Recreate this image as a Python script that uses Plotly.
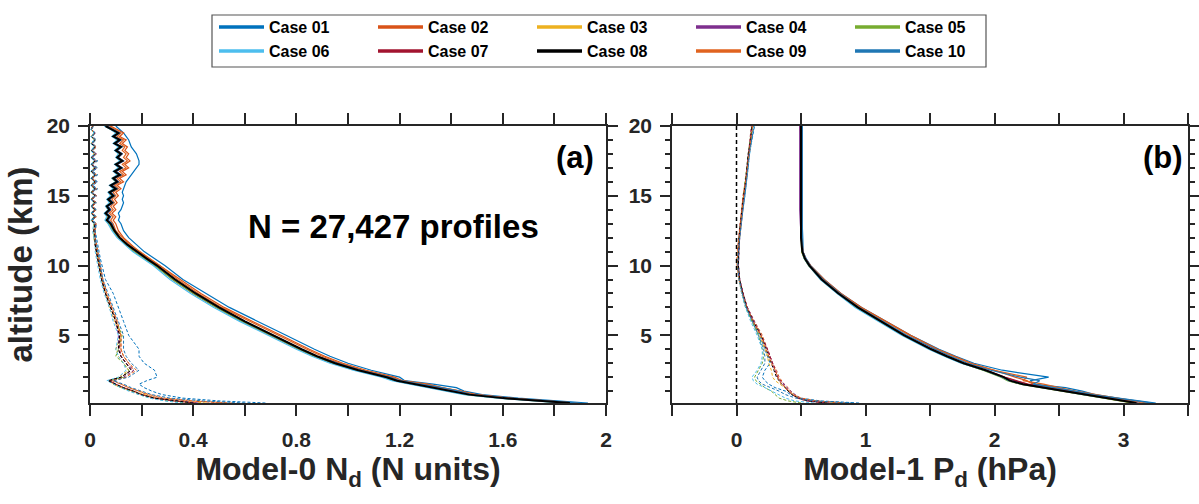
import plotly.graph_objects as go

# ---------------- data ----------------
CASES = ["Case 01", "Case 02", "Case 03", "Case 04", "Case 05",
         "Case 06", "Case 07", "Case 08", "Case 09", "Case 10"]
COLORS = ["#0072BD", "#D95319", "#EDB120", "#7E2F8E", "#77AC30",
          "#4DBEEE", "#A2142F", "#000000", "#E0631F", "#1F77B4"]

# altitude grid, panel (a)
ALT_A = [0.15, 0.3, 0.5, 0.75, 1.0, 1.25, 1.5, 1.75, 2.0, 2.5, 3.0, 3.5, 4.0, 5.0, 6.0, 7.0, 8.0, 9.0,
         10.0, 10.5, 11.0, 11.5, 12.0, 12.5,
         13.0, 13.25, 13.5, 13.75, 14.0, 14.25, 14.5, 14.75, 15.0, 15.25, 15.5, 15.75, 16.0, 16.25,
         16.5, 16.75, 17.0, 17.25, 17.5, 17.75, 18.0, 18.25, 18.5, 18.75, 19.0, 19.25, 19.5, 19.75, 20.0]

# Model-0 N_d, solid profiles
NA_01 = [1.93, 1.82, 1.66, 1.52, 1.45, 1.42, 1.33, 1.22, 1.20, 1.09, 1.00, 0.93, 0.87, 0.76, 0.65, 0.54, 0.45, 0.36,
         0.29, 0.25, 0.21, 0.18, 0.15, 0.13,
         0.12, 0.11, 0.115, 0.11, 0.12, 0.125, 0.13, 0.125, 0.13, 0.125, 0.13, 0.135, 0.14, 0.15,
         0.16, 0.17, 0.18, 0.19, 0.19, 0.185, 0.18, 0.17, 0.16, 0.155, 0.15, 0.14, 0.13, 0.115, 0.10]
NA_02 = [1.89, 1.78, 1.63, 1.50, 1.43, 1.37, 1.30, 1.21, 1.18, 1.07, 0.98, 0.91, 0.85, 0.74, 0.63, 0.52, 0.43, 0.35,
         0.27, 0.23, 0.19, 0.16, 0.13, 0.11,
         0.10, 0.09, 0.10, 0.085, 0.10, 0.09, 0.105, 0.095, 0.11, 0.10, 0.12, 0.105, 0.13, 0.115,
         0.14, 0.125, 0.15, 0.135, 0.155, 0.14, 0.15, 0.135, 0.145, 0.125, 0.14, 0.115, 0.13, 0.105, 0.08]
NA_03 = [1.84, 1.74, 1.59, 1.46, 1.40, 1.33, 1.27, 1.18, 1.15, 1.04, 0.95, 0.87, 0.81, 0.70, 0.59, 0.495, 0.405, 0.325,
         0.255, 0.215, 0.175, 0.14, 0.11, 0.09,
         0.075, 0.065, 0.07, 0.06, 0.07, 0.062, 0.08, 0.07, 0.085, 0.075, 0.095, 0.08, 0.10, 0.085,
         0.11, 0.095, 0.115, 0.10, 0.12, 0.105, 0.115, 0.10, 0.115, 0.095, 0.11, 0.09, 0.105, 0.085, 0.06]
NA_04 = [1.85, 1.74, 1.60, 1.47, 1.39, 1.33, 1.26, 1.18, 1.14, 1.03, 0.94, 0.87, 0.81, 0.70, 0.59, 0.49, 0.40, 0.32,
         0.255, 0.215, 0.175, 0.14, 0.11, 0.09,
         0.08, 0.068, 0.075, 0.065, 0.08, 0.07, 0.085, 0.075, 0.09, 0.08, 0.10, 0.085, 0.11, 0.095,
         0.115, 0.10, 0.12, 0.105, 0.125, 0.105, 0.12, 0.105, 0.12, 0.10, 0.115, 0.095, 0.11, 0.09, 0.065]
NA_05 = [1.84, 1.73, 1.59, 1.46, 1.39, 1.33, 1.26, 1.18, 1.14, 1.03, 0.94, 0.87, 0.81, 0.70, 0.59, 0.49, 0.40, 0.32,
         0.25, 0.21, 0.17, 0.14, 0.11, 0.09,
         0.07, 0.062, 0.075, 0.06, 0.075, 0.065, 0.08, 0.07, 0.09, 0.075, 0.095, 0.085, 0.105, 0.09,
         0.11, 0.095, 0.12, 0.10, 0.12, 0.105, 0.12, 0.10, 0.115, 0.095, 0.11, 0.09, 0.105, 0.085, 0.06]
NA_06 = [1.83, 1.72, 1.58, 1.45, 1.38, 1.32, 1.25, 1.17, 1.13, 1.02, 0.93, 0.86, 0.80, 0.69, 0.58, 0.48, 0.39, 0.31,
         0.245, 0.205, 0.165, 0.135, 0.105, 0.085,
         0.07, 0.058, 0.065, 0.055, 0.07, 0.06, 0.075, 0.065, 0.08, 0.07, 0.09, 0.075, 0.10, 0.085,
         0.105, 0.09, 0.11, 0.095, 0.115, 0.10, 0.11, 0.095, 0.11, 0.09, 0.105, 0.085, 0.10, 0.08, 0.055]
NA_07 = [1.86, 1.75, 1.61, 1.48, 1.41, 1.35, 1.28, 1.19, 1.16, 1.05, 0.96, 0.88, 0.82, 0.71, 0.60, 0.50, 0.41, 0.33,
         0.26, 0.22, 0.18, 0.145, 0.115, 0.095,
         0.085, 0.07, 0.08, 0.065, 0.08, 0.07, 0.09, 0.075, 0.095, 0.08, 0.105, 0.085, 0.11, 0.095,
         0.12, 0.10, 0.125, 0.105, 0.13, 0.11, 0.125, 0.105, 0.12, 0.10, 0.12, 0.095, 0.11, 0.09, 0.065]
NA_08 = [1.86, 1.75, 1.60, 1.47, 1.40, 1.34, 1.27, 1.19, 1.15, 1.04, 0.95, 0.88, 0.82, 0.71, 0.60, 0.50, 0.41, 0.33,
         0.26, 0.22, 0.18, 0.145, 0.115, 0.095,
         0.08, 0.065, 0.075, 0.06, 0.075, 0.065, 0.085, 0.07, 0.09, 0.075, 0.10, 0.08, 0.105, 0.09,
         0.115, 0.095, 0.12, 0.10, 0.125, 0.105, 0.12, 0.10, 0.12, 0.095, 0.115, 0.09, 0.11, 0.085, 0.06]
NA_09 = [1.88, 1.77, 1.62, 1.49, 1.44, 1.36, 1.31, 1.20, 1.17, 1.06, 0.97, 0.90, 0.84, 0.73, 0.62, 0.51, 0.42, 0.34,
         0.27, 0.23, 0.19, 0.155, 0.125, 0.10,
         0.09, 0.08, 0.09, 0.075, 0.09, 0.08, 0.095, 0.085, 0.10, 0.09, 0.11, 0.095, 0.12, 0.105,
         0.13, 0.115, 0.14, 0.125, 0.145, 0.13, 0.14, 0.125, 0.135, 0.115, 0.13, 0.105, 0.12, 0.10, 0.075]
NA_10 = [1.90, 1.77, 1.61, 1.48, 1.43, 1.36, 1.28, 1.20, 1.16, 1.05, 0.96, 0.88, 0.82, 0.71, 0.60, 0.50, 0.41, 0.33,
         0.26, 0.22, 0.18, 0.145, 0.115, 0.095,
         0.085, 0.07, 0.08, 0.065, 0.08, 0.07, 0.09, 0.075, 0.095, 0.08, 0.105, 0.085, 0.11, 0.095,
         0.12, 0.10, 0.125, 0.105, 0.13, 0.11, 0.125, 0.105, 0.125, 0.10, 0.12, 0.095, 0.115, 0.09, 0.065]

# Model-0 N_d, dashed profiles
DA_01 = [0.68, 0.50, 0.36, 0.28, 0.24, 0.21, 0.19, 0.22, 0.26, 0.25, 0.21, 0.19, 0.19, 0.15, 0.13, 0.11, 0.09, 0.06,
         0.045, 0.04, 0.035, 0.03, 0.025, 0.02,
         0.025, 0.01, 0.025, 0.01, 0.025, 0.01, 0.025, 0.01, 0.025, 0.01, 0.03, 0.01, 0.03, 0.01,
         0.03, 0.01, 0.03, 0.01, 0.03, 0.01, 0.025, 0.01, 0.025, 0.01, 0.025, 0.01, 0.02, 0.005, 0.015]
DA_02 = [0.52, 0.38, 0.28, 0.22, 0.19, 0.15, 0.12, 0.09, 0.14, 0.17, 0.15, 0.13, 0.12, 0.12, 0.105, 0.085, 0.065, 0.05,
         0.04, 0.035, 0.03, 0.025, 0.02, 0.02,
         0.02, 0.005, 0.025, 0.005, 0.02, 0.01, 0.025, 0.005, 0.02, 0.01, 0.025, 0.005, 0.02, 0.01,
         0.025, 0.005, 0.02, 0.01, 0.025, 0.005, 0.02, 0.01, 0.025, 0.005, 0.02, 0.005, 0.02, 0.005, 0.01]
DA_03 = [0.45, 0.35, 0.26, 0.21, 0.17, 0.12, 0.09, 0.08, 0.11, 0.15, 0.13, 0.11, 0.10, 0.12, 0.095, 0.075, 0.06, 0.045,
         0.035, 0.03, 0.025, 0.02, 0.015, 0.015,
         0.015, 0.005, 0.02, 0.005, 0.015, 0.005, 0.02, 0.005, 0.015, 0.005, 0.02, 0.005, 0.015, 0.005,
         0.02, 0.005, 0.015, 0.005, 0.02, 0.005, 0.015, 0.005, 0.02, 0.005, 0.015, 0.005, 0.015, 0.005, 0.01]
DA_04 = [0.42, 0.34, 0.25, 0.20, 0.16, 0.13, 0.10, 0.08, 0.13, 0.17, 0.14, 0.12, 0.11, 0.11, 0.10, 0.08, 0.06, 0.045,
         0.035, 0.03, 0.025, 0.02, 0.02, 0.015,
         0.02, 0.005, 0.02, 0.008, 0.025, 0.005, 0.02, 0.008, 0.025, 0.005, 0.02, 0.008, 0.025, 0.005,
         0.02, 0.008, 0.025, 0.005, 0.02, 0.008, 0.025, 0.005, 0.02, 0.008, 0.02, 0.005, 0.02, 0.005, 0.01]
DA_05 = [0.38, 0.30, 0.24, 0.19, 0.16, 0.12, 0.09, 0.075, 0.13, 0.15, 0.13, 0.10, 0.11, 0.125, 0.10, 0.08, 0.06, 0.045,
         0.035, 0.03, 0.025, 0.02, 0.015, 0.015,
         0.015, 0.005, 0.015, 0.005, 0.02, 0.005, 0.015, 0.005, 0.02, 0.005, 0.015, 0.005, 0.02, 0.005,
         0.015, 0.005, 0.02, 0.005, 0.015, 0.005, 0.02, 0.005, 0.015, 0.005, 0.02, 0.005, 0.015, 0.005, 0.01]
DA_06 = [0.36, 0.29, 0.23, 0.19, 0.15, 0.12, 0.09, 0.065, 0.11, 0.14, 0.13, 0.11, 0.10, 0.11, 0.09, 0.075, 0.055, 0.04,
         0.03, 0.025, 0.02, 0.02, 0.015, 0.01,
         0.015, 0.003, 0.015, 0.003, 0.015, 0.003, 0.015, 0.003, 0.015, 0.003, 0.015, 0.003, 0.015, 0.003,
         0.015, 0.003, 0.015, 0.003, 0.015, 0.003, 0.015, 0.003, 0.015, 0.003, 0.015, 0.003, 0.015, 0.003, 0.01]
DA_07 = [0.41, 0.32, 0.25, 0.20, 0.17, 0.13, 0.10, 0.075, 0.12, 0.16, 0.14, 0.12, 0.115, 0.115, 0.10, 0.08, 0.06, 0.045,
         0.035, 0.03, 0.025, 0.02, 0.02, 0.015,
         0.02, 0.006, 0.02, 0.006, 0.02, 0.006, 0.02, 0.006, 0.02, 0.006, 0.02, 0.006, 0.02, 0.006,
         0.02, 0.006, 0.02, 0.006, 0.02, 0.006, 0.02, 0.006, 0.02, 0.006, 0.02, 0.006, 0.02, 0.006, 0.01]
DA_08 = [0.40, 0.33, 0.25, 0.20, 0.17, 0.13, 0.10, 0.07, 0.12, 0.16, 0.14, 0.12, 0.11, 0.115, 0.10, 0.08, 0.06, 0.045,
         0.035, 0.03, 0.025, 0.02, 0.02, 0.015,
         0.02, 0.005, 0.02, 0.005, 0.02, 0.005, 0.02, 0.005, 0.02, 0.005, 0.02, 0.005, 0.02, 0.005,
         0.02, 0.005, 0.02, 0.005, 0.02, 0.005, 0.02, 0.005, 0.02, 0.005, 0.02, 0.005, 0.02, 0.005, 0.01]
DA_09 = [0.55, 0.40, 0.29, 0.23, 0.19, 0.15, 0.12, 0.085, 0.14, 0.18, 0.15, 0.13, 0.12, 0.12, 0.105, 0.085, 0.065, 0.05,
         0.04, 0.035, 0.03, 0.025, 0.02, 0.02,
         0.025, 0.008, 0.025, 0.008, 0.025, 0.008, 0.025, 0.008, 0.025, 0.008, 0.025, 0.008, 0.025, 0.008,
         0.025, 0.008, 0.025, 0.008, 0.025, 0.008, 0.025, 0.008, 0.025, 0.008, 0.02, 0.008, 0.02, 0.005, 0.012]
DA_10 = [0.60, 0.44, 0.31, 0.24, 0.20, 0.16, 0.13, 0.09, 0.15, 0.19, 0.16, 0.14, 0.13, 0.13, 0.11, 0.09, 0.07, 0.05,
         0.04, 0.035, 0.03, 0.025, 0.02, 0.02,
         0.022, 0.006, 0.022, 0.006, 0.022, 0.006, 0.022, 0.006, 0.022, 0.006, 0.025, 0.006, 0.025, 0.006,
         0.025, 0.006, 0.025, 0.006, 0.025, 0.006, 0.022, 0.006, 0.022, 0.006, 0.02, 0.006, 0.02, 0.005, 0.012]

# altitude grid, panel (b)
ALT_B = [0.15, 0.3, 0.5, 0.75, 1.0, 1.25, 1.5, 1.75, 2.0, 2.5, 3.0, 3.5, 4.0, 5.0, 6.0, 7.0, 8.0, 9.0,
         10.0, 10.5, 11.0, 12.0, 13.0, 14.0, 15.0, 16.0, 17.0, 18.0, 19.0, 20.0]

# Model-1 P_d, solid profiles
PB_01 = [3.25, 3.12, 2.96, 2.78, 2.68, 2.55, 2.30, 2.28, 2.42, 2.06, 1.84, 1.70, 1.57, 1.35, 1.16, 0.97, 0.81, 0.68,
         0.575, 0.54, 0.515, 0.51, 0.51, 0.51, 0.51, 0.51, 0.51, 0.51, 0.51, 0.51]
PB_02 = [3.14, 3.04, 2.92, 2.75, 2.60, 2.44, 2.30, 2.25, 2.16, 2.00, 1.82, 1.69, 1.56, 1.35, 1.16, 0.97, 0.81, 0.68,
         0.575, 0.535, 0.515, 0.505, 0.505, 0.505, 0.505, 0.505, 0.505, 0.505, 0.505, 0.505]
PB_03 = [3.08, 2.98, 2.86, 2.69, 2.54, 2.37, 2.21, 2.11, 2.06, 1.92, 1.75, 1.62, 1.50, 1.29, 1.11, 0.93, 0.785, 0.655,
         0.56, 0.525, 0.505, 0.50, 0.50, 0.50, 0.50, 0.50, 0.50, 0.50, 0.50, 0.49]
PB_04 = [3.09, 2.99, 2.87, 2.70, 2.55, 2.38, 2.25, 2.15, 2.07, 1.93, 1.76, 1.63, 1.51, 1.30, 1.12, 0.94, 0.79, 0.66,
         0.565, 0.53, 0.51, 0.50, 0.495, 0.49, 0.49, 0.49, 0.49, 0.49, 0.49, 0.49]
PB_05 = [3.07, 2.97, 2.85, 2.68, 2.53, 2.36, 2.20, 2.10, 2.05, 1.91, 1.75, 1.62, 1.50, 1.29, 1.11, 0.93, 0.785, 0.655,
         0.56, 0.525, 0.505, 0.50, 0.50, 0.50, 0.50, 0.50, 0.50, 0.50, 0.50, 0.50]
PB_06 = [3.12, 3.01, 2.86, 2.69, 2.54, 2.37, 2.21, 2.11, 2.06, 1.92, 1.74, 1.61, 1.49, 1.28, 1.10, 0.92, 0.78, 0.65,
         0.56, 0.525, 0.51, 0.505, 0.505, 0.505, 0.505, 0.505, 0.505, 0.505, 0.505, 0.505]
PB_07 = [3.11, 3.01, 2.88, 2.71, 2.56, 2.40, 2.26, 2.17, 2.08, 1.94, 1.77, 1.64, 1.52, 1.31, 1.13, 0.945, 0.795, 0.665,
         0.57, 0.535, 0.515, 0.50, 0.50, 0.50, 0.50, 0.50, 0.50, 0.50, 0.50, 0.50]
PB_08 = [3.10, 3.00, 2.87, 2.70, 2.55, 2.38, 2.22, 2.12, 2.07, 1.93, 1.76, 1.63, 1.51, 1.30, 1.12, 0.94, 0.79, 0.66,
         0.565, 0.53, 0.51, 0.50, 0.50, 0.50, 0.50, 0.50, 0.50, 0.50, 0.50, 0.50]
PB_09 = [3.18, 3.08, 2.94, 2.77, 2.63, 2.50, 2.38, 2.22, 2.25, 1.99, 1.81, 1.68, 1.55, 1.34, 1.15, 0.96, 0.80, 0.67,
         0.57, 0.535, 0.515, 0.505, 0.505, 0.505, 0.505, 0.505, 0.505, 0.505, 0.505, 0.505]
PB_10 = [3.22, 3.10, 2.95, 2.76, 2.62, 2.45, 2.30, 2.35, 2.20, 1.97, 1.79, 1.66, 1.54, 1.32, 1.14, 0.95, 0.80, 0.67,
         0.57, 0.535, 0.515, 0.51, 0.51, 0.51, 0.51, 0.51, 0.51, 0.51, 0.51, 0.51]

# Model-1 P_d, dashed profiles
QB_01 = [0.95, 0.65, 0.50, 0.42, 0.38, 0.30, 0.25, 0.22, 0.20, 0.22, 0.26, 0.24, 0.22, 0.18, 0.12, 0.075, 0.045, 0.02,
         0.01, 0.012, 0.015, 0.025, 0.035, 0.05, 0.065, 0.08, 0.09, 0.10, 0.12, 0.14]
QB_02 = [0.80, 0.60, 0.50, 0.45, 0.42, 0.40, 0.37, 0.35, 0.33, 0.31, 0.28, 0.26, 0.24, 0.20, 0.14, 0.085, 0.05, 0.02,
         0.005, 0.0, 0.005, 0.015, 0.025, 0.04, 0.05, 0.07, 0.085, 0.10, 0.115, 0.13]
QB_03 = [0.75, 0.58, 0.49, 0.44, 0.41, 0.37, 0.33, 0.30, 0.28, 0.27, 0.25, 0.24, 0.22, 0.18, 0.125, 0.08, 0.045, 0.02,
         0.01, 0.01, 0.015, 0.025, 0.035, 0.045, 0.06, 0.075, 0.085, 0.095, 0.11, 0.13]
QB_04 = [0.72, 0.57, 0.49, 0.45, 0.42, 0.39, 0.37, 0.34, 0.32, 0.30, 0.28, 0.26, 0.24, 0.19, 0.135, 0.085, 0.05, 0.025,
         0.015, 0.015, 0.02, 0.025, 0.035, 0.045, 0.06, 0.075, 0.085, 0.095, 0.105, 0.12]
QB_05 = [0.50, 0.40, 0.33, 0.30, 0.27, 0.22, 0.18, 0.15, 0.14, 0.17, 0.20, 0.21, 0.20, 0.17, 0.12, 0.07, 0.04, 0.02,
         0.01, 0.01, 0.015, 0.02, 0.03, 0.04, 0.055, 0.065, 0.08, 0.09, 0.105, 0.12]
QB_06 = [0.60, 0.45, 0.38, 0.33, 0.28, 0.22, 0.16, 0.13, 0.12, 0.16, 0.19, 0.20, 0.20, 0.16, 0.11, 0.07, 0.04, 0.02,
         0.01, 0.01, 0.015, 0.02, 0.03, 0.045, 0.06, 0.075, 0.085, 0.10, 0.115, 0.13]
QB_07 = [0.68, 0.54, 0.47, 0.43, 0.40, 0.38, 0.36, 0.34, 0.32, 0.30, 0.28, 0.26, 0.24, 0.19, 0.13, 0.08, 0.05, 0.025,
         0.015, 0.015, 0.015, 0.02, 0.03, 0.04, 0.055, 0.07, 0.08, 0.09, 0.105, 0.115]
QB_08 = [0.70, 0.55, 0.48, 0.43, 0.40, 0.38, 0.35, 0.33, 0.31, 0.29, 0.27, 0.25, 0.23, 0.19, 0.13, 0.08, 0.05, 0.025,
         0.015, 0.015, 0.015, 0.02, 0.03, 0.04, 0.055, 0.07, 0.08, 0.09, 0.11, 0.12]
QB_09 = [0.85, 0.62, 0.50, 0.44, 0.41, 0.38, 0.35, 0.33, 0.32, 0.30, 0.27, 0.25, 0.23, 0.19, 0.13, 0.08, 0.045, 0.02,
         0.005, 0.005, 0.01, 0.02, 0.03, 0.04, 0.055, 0.07, 0.085, 0.10, 0.11, 0.125]
QB_10 = [0.90, 0.60, 0.46, 0.38, 0.33, 0.26, 0.20, 0.17, 0.16, 0.19, 0.22, 0.22, 0.21, 0.17, 0.12, 0.075, 0.045, 0.02,
         0.01, 0.01, 0.015, 0.025, 0.035, 0.05, 0.065, 0.08, 0.09, 0.10, 0.115, 0.135]

ZERO_X = [0, 0]
ZERO_Y = [0.15, 20]

XTICKS_A = [0, 0.4, 0.8, 1.2, 1.6, 2]
XTICKTEXT_A = ["0", "0.4", "0.8", "1.2", "1.6", "2"]
XTICKS_B = [0, 1, 2, 3]
XTICKTEXT_B = ["0", "1", "2", "3"]
YTICKS = [5, 10, 15, 20]
YTICKTEXT = ["5", "10", "15", "20"]

SOLID_A = [NA_01, NA_02, NA_03, NA_04, NA_05, NA_06, NA_07, NA_08, NA_09, NA_10]
DASH_A = [DA_01, DA_02, DA_03, DA_04, DA_05, DA_06, DA_07, DA_08, DA_09, DA_10]
SOLID_B = [PB_01, PB_02, PB_03, PB_04, PB_05, PB_06, PB_07, PB_08, PB_09, PB_10]
DASH_B = [QB_01, QB_02, QB_03, QB_04, QB_05, QB_06, QB_07, QB_08, QB_09, QB_10]

# ---------------- figure ----------------
W, H = 1199, 504
FONT = "Liberation Sans, Arial, Helvetica, sans-serif"
INK = "#262626"


def px(v):
    return v / W


def py(v):
    return 1 - v / H


fig = go.Figure()

# dashed profiles first
for i in range(10):
    fig.add_trace(go.Scatter(x=DASH_A[i], y=ALT_A, mode="lines", xaxis="x", yaxis="y",
                             line=dict(color=COLORS[i], width=1, dash="3px,2px"),
                             showlegend=False, hoverinfo="skip"))
    fig.add_trace(go.Scatter(x=DASH_B[i], y=ALT_B, mode="lines", xaxis="x2", yaxis="y2",
                             line=dict(color=COLORS[i], width=1, dash="3px,2px"),
                             showlegend=False, hoverinfo="skip"))

fig.add_trace(go.Scatter(x=ZERO_X, y=ZERO_Y, mode="lines", xaxis="x2", yaxis="y2",
                         line=dict(color="#000000", width=1.5, dash="4px,3px"),
                         showlegend=False, hoverinfo="skip"))

order = [0, 1, 2, 3, 4, 5, 6, 8, 9, 7]
for i in order:
    lw = 2.0 if i == 7 else 1.2
    fig.add_trace(go.Scatter(x=SOLID_A[i], y=ALT_A, mode="lines", xaxis="x", yaxis="y",
                             line=dict(color=COLORS[i], width=lw), name=CASES[i], showlegend=False))
    fig.add_trace(go.Scatter(x=SOLID_B[i], y=ALT_B, mode="lines", xaxis="x2", yaxis="y2",
                             line=dict(color=COLORS[i], width=lw), name=CASES[i], showlegend=False))

# legend entries (thicker sample lines, as in the reference legend)
for i in range(10):
    lg = "legend" if i == 0 else "legend%d" % (i + 1)
    fig.add_trace(go.Scatter(x=[None], y=[None], mode="lines", xaxis="x", yaxis="y",
                             line=dict(color=COLORS[i], width=3.5), name=CASES[i],
                             legend=lg, showlegend=True))

axis_common = dict(showline=True, linecolor=INK, linewidth=1.6, mirror="ticks",
                   ticks="outside", tickcolor=INK, tickwidth=1.6, showgrid=False, zeroline=False,
                   tickfont=dict(family=FONT, size=21, color=INK, weight="bold"))

Y0, Y1 = py(403), py(126)

layout = dict(
    width=W, height=H,
    margin=dict(l=0, r=0, t=0, b=0, autoexpand=False),
    paper_bgcolor="white", plot_bgcolor="white",
    font=dict(family=FONT, color=INK),
    xaxis=dict(domain=[px(90), px(606)], range=[0, 2], anchor="y",
               tickvals=XTICKS_A, ticktext=XTICKTEXT_A, ticklen=11, ticklabelstandoff=6,
               minor=dict(dtick=0.2, tick0=0, ticklen=11, ticks="outside", tickcolor=INK, tickwidth=1.6),
               title=dict(text="Model-0 N<sub>d</sub> (N units)", standoff=5,
                          font=dict(family=FONT, size=32, color=INK, weight="bold")),
               **axis_common),
    yaxis=dict(domain=[Y0, Y1], range=[0.15, 20], anchor="x",
               tickvals=YTICKS, ticktext=YTICKTEXT, ticklen=10, ticklabelstandoff=4,
               minor=dict(dtick=1, tick0=0, ticklen=5, ticks="outside", tickcolor=INK, tickwidth=1.6),
               title=dict(text="altitude (km)", standoff=4,
                          font=dict(family=FONT, size=33, color=INK, weight="bold")),
               **axis_common),
    xaxis2=dict(domain=[px(672), px(1188)], range=[-0.5, 3.5], anchor="y2",
                tickvals=XTICKS_B, ticktext=XTICKTEXT_B, ticklen=11, ticklabelstandoff=6,
                minor=dict(dtick=0.5, tick0=0, ticklen=11, ticks="outside", tickcolor=INK, tickwidth=1.6),
                title=dict(text="Model-1 P<sub>d</sub> (hPa)", standoff=5,
                           font=dict(family=FONT, size=32, color=INK, weight="bold")),
                **axis_common),
    yaxis2=dict(domain=[Y0, Y1], range=[0.15, 20], anchor="x2",
                tickvals=YTICKS, ticktext=YTICKTEXT, ticklen=10, ticklabelstandoff=4,
                minor=dict(dtick=1, tick0=0, ticklen=5, ticks="outside", tickcolor=INK, tickwidth=1.6),
                **axis_common),
    annotations=[
        dict(text="N = 27,427 profiles", x=px(393), y=py(227), xref="paper", yref="paper",
             showarrow=False, xanchor="center", yanchor="middle",
             font=dict(family=FONT, size=33, color="#000000", weight="bold")),
        dict(text="(a)", x=px(575), y=py(157), xref="paper", yref="paper",
             showarrow=False, xanchor="center", yanchor="middle",
             font=dict(family=FONT, size=31, color="#000000", weight="bold")),
        dict(text="(b)", x=px(1163), y=py(157), xref="paper", yref="paper",
             showarrow=False, xanchor="center", yanchor="middle",
             font=dict(family=FONT, size=31, color="#000000", weight="bold")),
    ],
    shapes=[dict(type="rect", xref="paper", yref="paper",
                 x0=px(212), x1=px(986), y0=py(67), y1=py(15),
                 line=dict(color="#555555", width=1.2), fillcolor="rgba(0,0,0,0)")],
)

for i in range(10):
    key = "legend" if i == 0 else "legend%d" % (i + 1)
    row, col = divmod(i, 5)
    layout[key] = dict(x=px(214 + 159 * col), y=py(27 + 24 * row), xanchor="left", yanchor="middle",
                       orientation="h", bgcolor="rgba(0,0,0,0)", borderwidth=0, itemwidth=45,
                       font=dict(family=FONT, size=16, color="#000000", weight="bold"))

fig.update_layout(**layout)
fig.write_html("out.html")
